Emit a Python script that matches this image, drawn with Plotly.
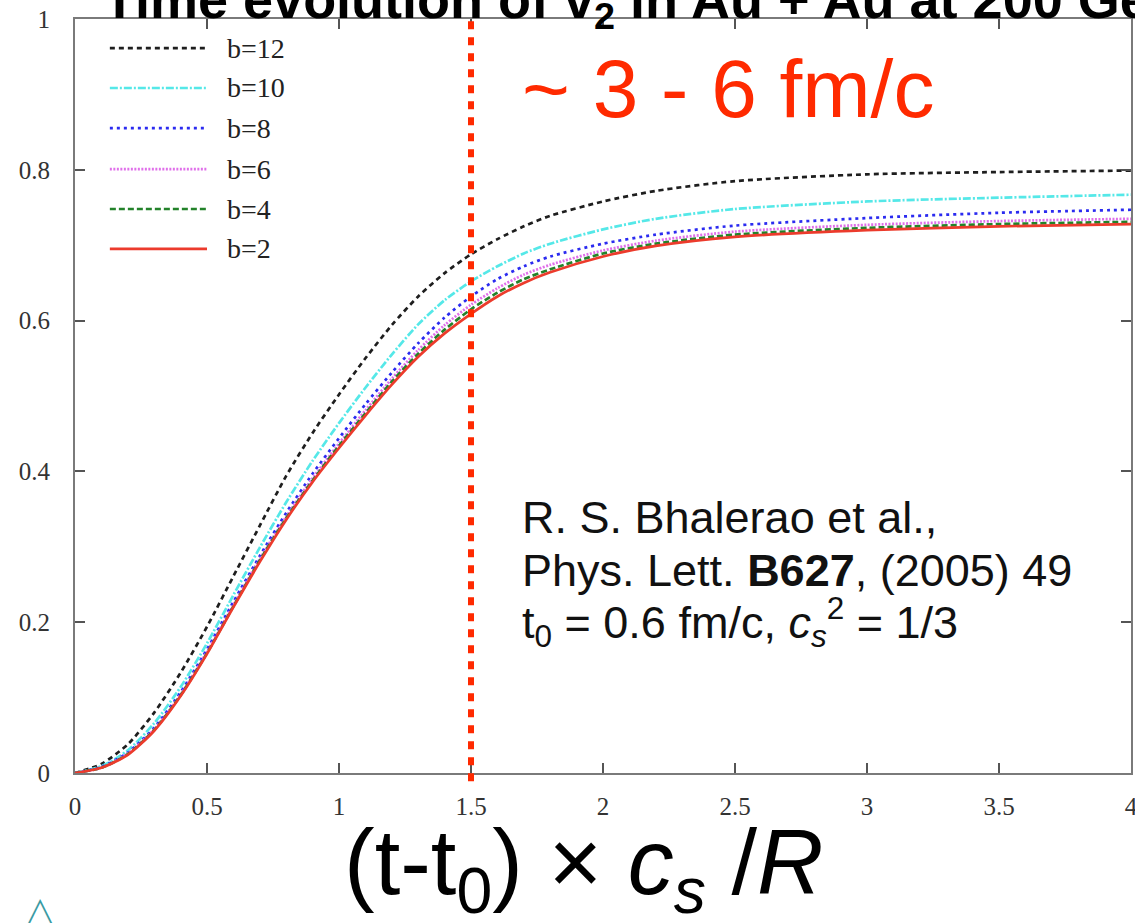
import plotly.graph_objects as go

# Time grid, (t - t0) * cs / R
x_vals = [0.0, 0.1, 0.2, 0.3, 0.4, 0.5, 0.6, 0.7, 0.8, 0.9, 1.0, 1.1, 1.2, 1.3,
          1.4, 1.5, 1.6, 1.7, 1.8, 2.0, 2.2, 2.5, 3.0, 3.5, 4.0]

# Normalised elliptic flow for each impact parameter b (fm)
v2_b12 = [0.0, 0.012, 0.038, 0.080, 0.133, 0.194, 0.261, 0.328, 0.394, 0.451, 0.502,
          0.550, 0.594, 0.632, 0.663, 0.688, 0.708, 0.725, 0.739, 0.758, 0.772, 0.785,
          0.794, 0.797, 0.799]
v2_b10 = [0.0, 0.009, 0.030, 0.066, 0.114, 0.172, 0.236, 0.299, 0.359, 0.414, 0.464,
          0.511, 0.555, 0.595, 0.627, 0.652, 0.672, 0.689, 0.702, 0.721, 0.735, 0.748,
          0.758, 0.763, 0.767]
v2_b8 = [0.0, 0.008, 0.027, 0.060, 0.107, 0.164, 0.227, 0.288, 0.345, 0.397, 0.444,
         0.489, 0.531, 0.570, 0.604, 0.632, 0.655, 0.672, 0.685, 0.702, 0.714, 0.726,
         0.736, 0.743, 0.747]
v2_b6 = [0.0, 0.007, 0.026, 0.058, 0.104, 0.161, 0.223, 0.284, 0.340, 0.391, 0.437,
         0.481, 0.523, 0.561, 0.594, 0.621, 0.643, 0.661, 0.674, 0.693, 0.706, 0.718,
         0.727, 0.732, 0.735]
v2_b4 = [0.0, 0.007, 0.025, 0.057, 0.103, 0.159, 0.221, 0.282, 0.338, 0.388, 0.434,
         0.477, 0.519, 0.556, 0.588, 0.615, 0.637, 0.655, 0.668, 0.689, 0.702, 0.714,
         0.723, 0.728, 0.731]
v2_b2 = [0.0, 0.007, 0.024, 0.056, 0.102, 0.158, 0.220, 0.280, 0.336, 0.386, 0.431,
         0.474, 0.515, 0.552, 0.583, 0.609, 0.632, 0.650, 0.664, 0.685, 0.699, 0.711,
         0.720, 0.725, 0.728]

series_names = ["b=12", "b=10", "b=8", "b=6", "b=4", "b=2"]
series_values = [v2_b12, v2_b10, v2_b8, v2_b6, v2_b4, v2_b2]
series_colors = ["#1e1e1e", "#55e8e8", "#2b2bf0", "#e070ea", "#23822a", "#ec3b2c"]
series_dash = ["5px,4px", "8px,2px,2px,2px", "3px,4px", "2px,1.5px", "6px,3px", "solid"]

x_ticks = [0, 0.5, 1, 1.5, 2, 2.5, 3, 3.5, 4]
x_tick_text = ["0", "0.5", "1", "1.5", "2", "2.5", "3", "3.5", "4"]
y_ticks = [0, 0.2, 0.4, 0.6, 0.8, 1]
y_tick_text = ["0", "0.2", "0.4", "0.6", "0.8", "1"]

marker_time = 1.5
accent = "#ff2a00"

fig = go.Figure()
for name, vals, col, dash in zip(series_names, series_values, series_colors, series_dash):
    fig.add_trace(go.Scatter(
        x=x_vals, y=vals, name=name, mode="lines",
        line=dict(color=col, width=2.7, dash=dash, shape="spline", smoothing=0.7),
        showlegend=False,
    ))

serif = "Liberation Serif, Times New Roman, serif"
sans = "Liberation Sans, Arial, sans-serif"

axis_common = dict(
    showline=True, linecolor="#7a7a7a", linewidth=2, mirror="allticks",
    ticks="inside", ticklen=10, tickwidth=1.5, tickcolor="#555555",
    showgrid=False, zeroline=False, ticklabeloverflow="allow", automargin=False,
    tickfont=dict(family=serif, size=25, color="#333333"),
)

fig.update_xaxes(range=[0, 4], tickvals=x_ticks, ticktext=x_tick_text,
                 ticklabelstandoff=10, **axis_common)
fig.update_yaxes(range=[0, 1], tickvals=y_ticks, ticktext=y_tick_text,
                 ticklabelstandoff=18, **axis_common)

shapes = []
annotations = []

# Vertical marker at the thermalisation time scale
shapes.append(dict(type="line", xref="x", yref="paper", x0=marker_time, x1=marker_time,
                   y0=-0.011, y1=1.0, line=dict(color=accent, width=6, dash="8px,8px"),
                   layer="above"))

# Hand-built key with long line samples
legend_rows = [0.9615, 0.9085, 0.8554, 0.801, 0.748, 0.695]
for name, col, dash, yy in zip(series_names, series_colors, series_dash, legend_rows):
    shapes.append(dict(type="line", xref="paper", yref="paper", x0=0.033, x1=0.125,
                       y0=yy, y1=yy, line=dict(color=col, width=2.7, dash=dash)))
    annotations.append(dict(x=0.142, y=yy, xref="paper", yref="paper", text=name,
                            showarrow=False, xanchor="left", yanchor="middle",
                            font=dict(family=serif, size=28, color="#222222")))

# Headline, partly above the page edge
annotations.append(dict(x=0.0246, y=1.021, xref="paper", yref="paper",
                        text="<b>Time evolution of v<sub>2</sub> in Au + Au at 200 GeV</b>",
                        showarrow=False, xanchor="left", yanchor="middle",
                        font=dict(family=sans, size=54, color="#000000")))

annotations.append(dict(x=0.4214, y=0.908, xref="paper", yref="paper",
                        text="~ 3 - 6 fm/c", showarrow=False,
                        xanchor="left", yanchor="middle",
                        font=dict(family=sans, size=82, color=accent)))

citation = [
    "R. S. Bhalerao et al.,",
    "Phys. Lett. <b>B627</b>, (2005) 49",
    "t<sub>0</sub> = 0.6 fm/c, <i>c<sub>s</sub></i><sup>2</sup> = 1/3",
]
for line, yy in zip(citation, [0.3382, 0.2692, 0.2003]):
    annotations.append(dict(x=0.4214, y=yy, xref="paper", yref="paper", text=line,
                            showarrow=False, xanchor="left", yanchor="middle",
                            font=dict(family=sans, size=45, color="#111111")))

# Axis caption
annotations.append(dict(x=0.482, y=-0.127, xref="paper", yref="paper",
                        text="(t-t<sub>0</sub>) × <i>c<sub>s</sub></i> /<i>R</i>",
                        showarrow=False, xanchor="center", yanchor="middle",
                        font=dict(family=sans, size=92, color="#000000")))

# Small logo glyph in the corner
annotations.append(dict(x=-0.033, y=-0.18, xref="paper", yref="paper", text="△",
                        showarrow=False, xanchor="center", yanchor="middle",
                        font=dict(family="DejaVu Sans", size=34, color="#3a9aa3")))

fig.update_layout(
    width=1135, height=923, autosize=False,
    margin=dict(l=75, r=4, t=19, b=150),
    paper_bgcolor="white", plot_bgcolor="white",
    shapes=shapes, annotations=annotations,
    showlegend=False,
)

fig.write_html("out.html")
